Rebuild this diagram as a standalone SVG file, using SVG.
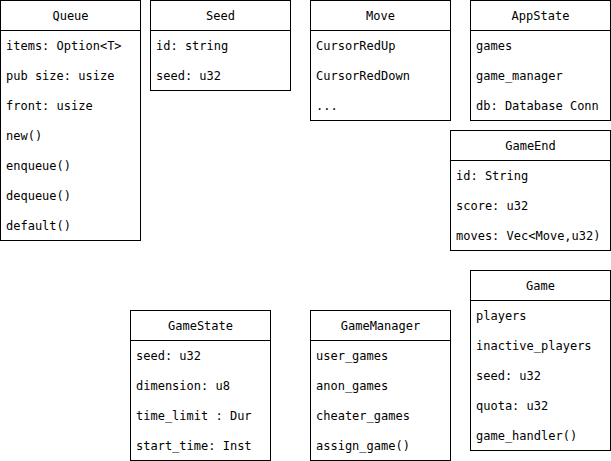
<svg xmlns="http://www.w3.org/2000/svg" width="611" height="461" viewBox="0 0 611 461">
<style>
rect{fill:#fff;stroke:#000;stroke-width:1}
line{stroke:#000;stroke-width:1}
text{font-family:"DejaVu Sans Mono","Liberation Mono",monospace;font-size:12px;fill:#000;dominant-baseline:central}
.h{text-anchor:middle}
</style>
<rect x="0" y="0" width="611" height="461" style="stroke:none"/>
<g id="Queue">
<rect x="0.5" y="0.5" width="140" height="240"/>
<line x1="0.5" y1="30.5" x2="140.5" y2="30.5"/>
<text class="h" x="70.5" y="15.5">Queue</text>
<text x="6" y="45.5">items: Option&lt;T&gt;</text>
<text x="6" y="75.5">pub size: usize</text>
<text x="6" y="105.5">front: usize</text>
<text x="6" y="135.5">new()</text>
<text x="6" y="165.5">enqueue()</text>
<text x="6" y="195.5">dequeue()</text>
<text x="6" y="225.5">default()</text>
</g>
<g id="Seed">
<rect x="150.5" y="0.5" width="140" height="90"/>
<line x1="150.5" y1="30.5" x2="290.5" y2="30.5"/>
<text class="h" x="220.5" y="15.5">Seed</text>
<text x="156" y="45.5">id: string</text>
<text x="156" y="75.5">seed: u32</text>
</g>
<g id="Move">
<rect x="310.5" y="0.5" width="140" height="120"/>
<line x1="310.5" y1="30.5" x2="450.5" y2="30.5"/>
<text class="h" x="380.5" y="15.5">Move</text>
<text x="316" y="45.5">CursorRedUp</text>
<text x="316" y="75.5">CursorRedDown</text>
<text x="316" y="105.5">...</text>
</g>
<g id="AppState">
<rect x="470.5" y="0.5" width="140" height="120"/>
<line x1="470.5" y1="30.5" x2="610.5" y2="30.5"/>
<text class="h" x="540.5" y="15.5">AppState</text>
<text x="476" y="45.5">games</text>
<text x="476" y="75.5">game_manager</text>
<text x="476" y="105.5">db: Database Conn</text>
</g>
<g id="GameEnd">
<rect x="450.5" y="130.5" width="160" height="120"/>
<line x1="450.5" y1="160.5" x2="610.5" y2="160.5"/>
<text class="h" x="530.5" y="145.5">GameEnd</text>
<text x="456" y="175.5">id: String</text>
<text x="456" y="205.5">score: u32</text>
<text x="456" y="235.5">moves: Vec&lt;Move,u32)</text>
</g>
<g id="Game">
<rect x="470.5" y="270.5" width="140" height="180"/>
<line x1="470.5" y1="300.5" x2="610.5" y2="300.5"/>
<text class="h" x="540.5" y="285.5">Game</text>
<text x="476" y="315.5">players</text>
<text x="476" y="345.5">inactive_players</text>
<text x="476" y="375.5">seed: u32</text>
<text x="476" y="405.5">quota: u32</text>
<text x="476" y="435.5">game_handler()</text>
</g>
<g id="GameState">
<rect x="130.5" y="310.5" width="140" height="150"/>
<line x1="130.5" y1="340.5" x2="270.5" y2="340.5"/>
<text class="h" x="200.5" y="325.5">GameState</text>
<text x="136" y="355.5">seed: u32</text>
<text x="136" y="385.5">dimension: u8</text>
<text x="136" y="415.5">time_limit : Dur</text>
<text x="136" y="445.5">start_time: Inst</text>
</g>
<g id="GameManager">
<rect x="310.5" y="310.5" width="140" height="150"/>
<line x1="310.5" y1="340.5" x2="450.5" y2="340.5"/>
<text class="h" x="380.5" y="325.5">GameManager</text>
<text x="316" y="355.5">user_games</text>
<text x="316" y="385.5">anon_games</text>
<text x="316" y="415.5">cheater_games</text>
<text x="316" y="445.5">assign_game()</text>
</g>
<g id="connectors"></g>
</svg>
